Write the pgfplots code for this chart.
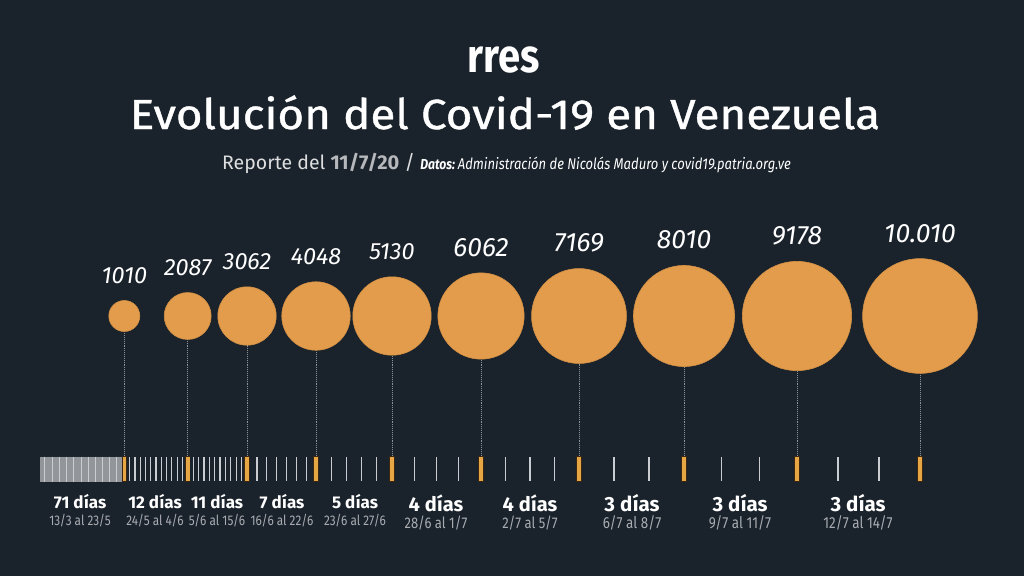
\documentclass[border=0pt]{standalone}
\usepackage{pgfplots}
\usepackage{pgfplotstable}
\pgfplotsset{compat=1.18}
\usepackage{fontspec}
\setmainfont{Fira Sans}
\newfontfamily\cond[FakeStretch=0.84]{Fira Sans}
\newfontfamily\titlefont[FakeStretch=1.09, FakeBold=1.0]{Fira Sans}
\definecolor{bg}{HTML}{1A222B}
\definecolor{bub}{HTML}{E39C4C}
\definecolor{tickc}{HTML}{C9CDD1}
\definecolor{band}{HTML}{92969A}
\definecolor{dots}{HTML}{8C939B}
\definecolor{subc}{HTML}{A9ADB2}

% cumulative cases at each milestone, drawn at the milestone's place on the time line
\pgfplotstableread{
x     y   v     lbl
124.3 316 1010  1010
187.7 316 2087  2087
247.0 316 3062  3062
316.0 316 4048  4048
392.0 316 5130  5130
481.0 316 6062  6062
579.0 316 7169  7169
684.0 316 8010  8010
797.0 316 9178  9178
920.0 316 10010 10.010
}\bubbles

% x, days, dates, size of days, baseline, size of dates
\newcommand{\seg}[6]{%
  \node[anchor=base, text=white, font=\bfseries\fontsize{#4}{#4}\selectfont] at (axis cs:#1,#5) {#2};
  \node[anchor=base, text=subc, font=\cond\fontsize{#6}{#6}\selectfont] at (axis cs:#1,#5+17) {#3};}

\begin{document}
\begin{tikzpicture}
\fill[bg] (0,0) rectangle (1024pt,576pt);
\begin{axis}[
  scale only axis, width=1024pt, height=576pt,
  xmin=0, xmax=1024, ymin=0, ymax=576, y dir=reverse,
  axis lines=none, clip=false]

% leader lines from each circle down to its day
\addplot[dots, densely dotted, line width=0.9pt, unbounded coords=jump] coordinates {
(124.3,316)(124.3,455)(124.3,nan)
(187.7,316)(187.7,455)(187.7,nan)
(247.0,316)(247.0,455)(247.0,nan)
(316.0,316)(316.0,455)(316.0,nan)
(392.0,316)(392.0,455)(392.0,nan)
(481.0,316)(481.0,455)(481.0,nan)
(579.0,316)(579.0,455)(579.0,nan)
(684.0,316)(684.0,455)(684.0,nan)
(797.0,316)(797.0,455)(797.0,nan)
(920.0,316)(920.0,455)};

% circles, radius grows with the case count (meta 0..10000 maps to 0..1000)
\addplot[scatter, only marks, mark=*,
  point meta=explicit, point meta min=0, point meta max=10000,
  scatter/@pre marker code/.code={%
    \pgfmathsetmacro\rr{15.5*(10*\pgfplotspointmetatransformed/1010)^0.571}%
    \scope[mark size=\rr pt, fill=bub, draw=bub!92!black, line width=0.6pt]},
  scatter/@post marker code/.code={\endscope}]
  table[x=x, y=y, meta=v]{\bubbles};

% case counts above the circles
\pgfplotsset{countlabel/.style={draw=none, mark=none, point meta=explicit symbolic,
  nodes near coords,
  every node near coord/.append style={anchor=south, inner sep=0pt, text=white,
    font=\itshape\fontsize{#1}{#1}\selectfont}}}
\addplot[countlabel=23.5, skip coords between index={5}{10}]
  table[x=x, y expr={\thisrow{y}-15.5*(\thisrow{v}/1010)^0.571-17}, meta=lbl]{\bubbles};
\addplot[countlabel=26.5, skip coords between index={0}{5}]
  table[x=x, y expr={\thisrow{y}-15.5*(\thisrow{v}/1010)^0.571-16}, meta=lbl]{\bubbles};

% daily ticks: 13/3 to 23/5
\addplot[only marks, mark=|, mark size=12.5pt, mark options={draw=band, line width=1.25pt}] coordinates {
(41.0,469)(42.2,469)(43.3,469)(44.5,469)(45.7,469)(46.9,469)(48.0,469)(49.2,469)(50.4,469)(51.6,469)
(52.7,469)(53.9,469)(55.1,469)(56.2,469)(57.4,469)(58.6,469)(59.8,469)(60.9,469)(62.1,469)(63.3,469)
(64.5,469)(65.6,469)(66.8,469)(68.0,469)(69.2,469)(70.3,469)(71.5,469)(72.7,469)(73.8,469)(75.0,469)
(76.2,469)(77.4,469)(78.5,469)(79.7,469)(80.9,469)(82.1,469)(83.2,469)(84.4,469)(85.6,469)(86.7,469)
(87.9,469)(89.1,469)(90.3,469)(91.4,469)(92.6,469)(93.8,469)(95.0,469)(96.1,469)(97.3,469)(98.5,469)
(99.7,469)(100.8,469)(102.0,469)(103.2,469)(104.3,469)(105.5,469)(106.7,469)(107.9,469)(109.0,469)(110.2,469)
(111.4,469)(112.6,469)(113.7,469)(114.9,469)(116.1,469)(117.3,469)(118.4,469)(119.6,469)(120.8,469)(121.9,469)
(123.1,469)};
% a few lighter days inside the dense band
\addplot[only marks, mark=|, mark size=12.5pt, mark options={draw=tickc, line width=0.8pt}] coordinates {
(44.5,469)(52.7,469)(59.8,469)(66.8,469)(73.8,469)(80.9,469)(87.9,469)(95.0,469)(102.0,469)(109.0,469)(116.1,469)};

% daily ticks: 24/5 to 14/7
\addplot[only marks, mark=|, mark size=12pt, mark options={draw=tickc, line width=1.2pt}] coordinates {
(129.6,469)(134.9,469)(140.2,469)(145.4,469)(150.7,469)(156.0,469)(161.3,469)(166.6,469)(171.8,469)(177.1,469)(182.4,469)
(193.1,469)(198.5,469)(203.9,469)(209.3,469)(214.7,469)(220.0,469)(225.4,469)(230.8,469)(236.2,469)(241.6,469)
(256.9,469)(266.7,469)(276.6,469)(286.4,469)(296.3,469)(306.1,469)
(331.2,469)(346.4,469)(361.6,469)(376.8,469)
(414.3,469)(436.5,469)(458.8,469)
(505.5,469)(530.0,469)(554.5,469)
(614.0,469)(649.0,469)
(721.7,469)(759.3,469)
(838.0,469)(879.0,469)};

% milestone days
\addplot[only marks, mark=|, mark size=13pt, mark options={draw=black!75!bub, line width=5.5pt}] table[x=x, y expr=469]{\bubbles};
\addplot[only marks, mark=|, mark size=12.3pt, mark options={draw=bub!90!yellow, line width=3.6pt}] table[x=x, y expr=469]{\bubbles};

% headings
\node[anchor=base, text=white, font=\bfseries\fontsize{47}{47}\selectfont] at (axis cs:503.5,72) {\scalebox{0.85}[1]{rres}};
\node[anchor=base, text=white, font=\titlefont\fontsize{42}{42}\selectfont] at (axis cs:505,129) {Evolución del Covid-19 en Venezuela};
\node[anchor=base west, inner sep=0pt, text=white!85!bg] at (axis cs:222,169)
  {{\fontsize{19.5}{20}\selectfont Reporte del }%
   {\bfseries\fontsize{20}{20}\selectfont\color{white!68!bg}11/7/20}%
   {\fontsize{20}{20}\selectfont\ /\ }%
   {\cond\bfseries\itshape\fontsize{14.5}{14.5}\selectfont\color{white}Datos:\ }%
   {\cond\itshape\fontsize{15.5}{15.5}\selectfont\color{white}Administración de Nicolás Maduro y covid19.patria.org.ve}};

% period labels
\seg{80}{71 días}{13/3 al 23/5}{17}{508}{14}
\seg{155}{12 días}{24/5 al 4/6}{17}{508}{14}
\seg{217}{11 días}{5/6 al 15/6}{17}{508}{14}
\seg{282}{7 días}{16/6 al 22/6}{17}{508}{14}
\seg{355}{5 días}{23/6 al 27/6}{17}{508}{14}
\seg{436}{4 días}{28/6 al 1/7}{20}{511}{15.5}
\seg{530}{4 días}{2/7 al 5/7}{20}{511}{15.5}
\seg{632}{3 días}{6/7 al 8/7}{20.5}{511}{16}
\seg{740}{3 días}{9/7 al 11/7}{20.5}{511}{16}
\seg{858}{3 días}{12/7 al 14/7}{20.5}{511}{16}
\end{axis}
\end{tikzpicture}
\end{document}
